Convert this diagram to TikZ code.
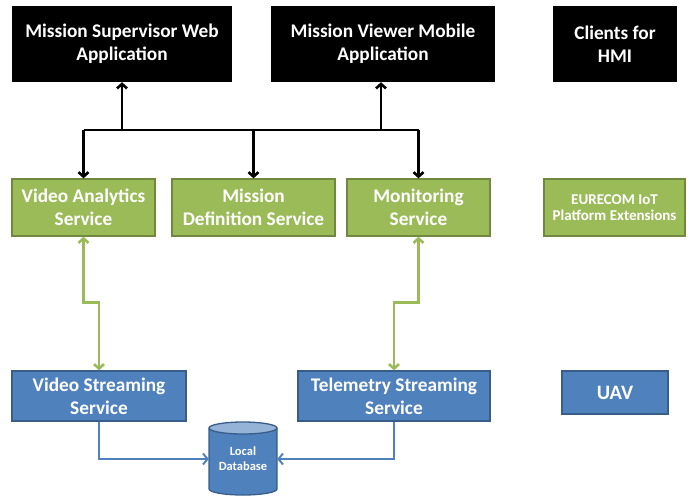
\documentclass[tikz,border=0pt]{standalone}
\usepackage{fontspec}
\setmainfont{Carlito}
\usetikzlibrary{arrows.meta}
\definecolor{gfill}{HTML}{9BBB59}
\definecolor{gline}{HTML}{71893F}
\definecolor{bfill}{HTML}{4F81BD}
\definecolor{bline}{HTML}{385D8A}
\definecolor{btop}{HTML}{95B3D7}
\begin{document}
\begin{tikzpicture}[x=1pt,y=-1pt,
  base/.style={rectangle,align=center,text=white,font=\bfseries\fontsize{19.3}{23}\selectfont,inner sep=0pt},
  blackbox/.style={base,fill=black},
  greenbox/.style={base,fill=gfill,draw=gline,line width=1.3pt},
  bluebox/.style={base,fill=bfill,draw=bline,line width=1.3pt},
  blk/.style={draw=black,line width=2.6pt,-{Straight Barb[length=4.5pt,width=10pt]}},
  grn/.style={draw=gfill,line width=2.6pt,{Straight Barb[length=4.5pt,width=10pt]}-{Straight Barb[length=4.5pt,width=10pt]}},
  blu/.style={draw=bfill,line width=2pt,-{Straight Barb[length=4.5pt,width=11pt]}}]
\useasboundingbox (0,0) rectangle (694,496);
% top row
\node[blackbox,minimum width=220pt,minimum height=76pt] (msw) at (122,44) {Mission Supervisor Web\\Application};
\node[blackbox,minimum width=224pt,minimum height=76pt] (mvm) at (383,44) {Mission Viewer Mobile\\Application};
\node[blackbox,minimum width=124pt,minimum height=76pt] (cli) at (615,44) {Clients for\\HMI};
% green row
\node[greenbox,minimum width=143pt,minimum height=57pt] (vas) at (83.5,207.5) {Video Analytics\\Service};
\node[greenbox,minimum width=163pt,minimum height=57pt] (mds) at (253.5,207.5) {Mission\\Definition Service};
\node[greenbox,minimum width=143pt,minimum height=57pt] (mon) at (418.5,207.5) {Monitoring\\Service};
\node[greenbox,minimum width=141pt,minimum height=57pt,font=\bfseries\fontsize{15}{16.5}\selectfont] (eur) at (614.5,207.5) {EURECOM IoT\\Platform Extensions};
% blue row
\node[bluebox,minimum width=174pt,minimum height=50pt] (vss) at (99,396) {Video Streaming\\Service};
\node[bluebox,minimum width=192pt,minimum height=50pt] (tss) at (394,396) {Telemetry Streaming\\Service};
\node[bluebox,minimum width=106pt,minimum height=43pt,font=\bfseries\fontsize{20.5}{22}\selectfont] (uav) at (615,392.5) {UAV};
% database cylinder
\fill[bfill] (209,428) -- (209,489) arc[start angle=180,end angle=360,x radius=34,y radius=-6] -- (277,428) -- cycle;
\draw[bline,line width=1.3pt] (209,428) -- (209,489) arc[start angle=180,end angle=360,x radius=34,y radius=-6] -- (277,428);
\draw[bline,line width=1.3pt,fill=btop] (243,428) ellipse[x radius=34,y radius=6];
\node[base,font=\bfseries\fontsize{12.5}{15}\selectfont,minimum width=68pt,minimum height=50pt] (db) at (243,459) {Local\\Database};
% black connectors
\coordinate (jl) at (83.5,130);
\draw[draw=black,line width=2.6pt] (vas.north |- jl) -- (mon.north |- jl);
\draw[blk] (msw.south |- jl) -- (msw.south);
\draw[blk] ([xshift=-2pt]mvm.south |- jl) -- ([xshift=-2pt]mvm.south);
\draw[blk] (vas.north |- jl) -- (vas.north);
\draw[blk] (mds.north |- jl) -- (mds.north);
\draw[blk] (mon.north |- jl) -- (mon.north);
% green connectors
\draw[grn] (vas.south) -- ++(0,66) -| (vss.north);
\draw[grn] (mon.south) -- ++(0,66) -| (tss.north);
% blue connectors
\draw[blu] (vss.south) |- (db.west);
\draw[blu] (tss.south) |- (db.east);
\end{tikzpicture}
\end{document}
